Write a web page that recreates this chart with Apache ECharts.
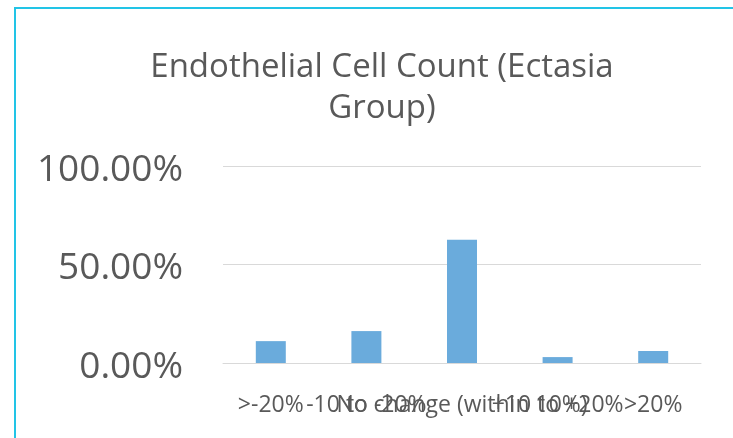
<!DOCTYPE html>
<html>
<head>
<meta charset="utf-8">
<script src="https://cdn.jsdelivr.net/npm/echarts@6/dist/echarts.min.js"></script>
<style>
  html, body { margin: 0; padding: 0; background: #fff; }
  #chart { width: 733px; height: 438px; }
</style>
</head>
<body>
<div id="chart"></div>
<script>
  // 数据
  const categories = ['>-20%', '-10 to -20%', 'No change (within 10%)', '+10 to +20%', '>20%']
  const shares = [0.111, 0.162, 0.626, 0.030, 0.061]
  const yTicks = [0, 0.5, 1]

  const chart = echarts.init(document.getElementById('chart'))
  const font = '"Open Sans", sans-serif'
  const option = {
    backgroundColor: '#fff',
    title: {
      text: 'Endothelial Cell Count (Ectasia\nGroup)',
      left: 377,
      top: 42,
      textAlign: 'center',
      textStyle: {
        fontFamily: font,
        fontSize: 33,
        fontWeight: 'normal',
        color: '#595959',
        lineHeight: 41
      }
    },
    graphic: [{
      type: 'rect',
      shape: {x: 15, y: 8, width: 760, height: 480},
      style: {fill: 'none', stroke: '#22c4e6', lineWidth: 2},
      silent: true
    }],
    grid: {left: 223, right: 32, top: 166, bottom: 75},
    xAxis: {
      type: 'category',
      data: categories,
      axisLine: {lineStyle: {color: '#d9d9d9', width: 1}},
      axisTick: {show: false},
      axisLabel: {
        interval: 0,
        hideOverlap: false,
        margin: 31,
        fontFamily: font,
        fontSize: 23,
        color: '#595959'
      }
    },
    yAxis: {
      type: 'value',
      min: yTicks[0],
      max: yTicks[yTicks.length - 1],
      interval: yTicks[1] - yTicks[0],
      axisLine: {show: false},
      axisTick: {show: false},
      splitLine: {lineStyle: {color: '#d9d9d9', width: 1}},
      axisLabel: {
        margin: 40,
        verticalAlign: 'top',
        lineHeight: 8,
        fontFamily: font,
        fontSize: 37,
        color: '#595959',
        formatter: v => (v * 100).toFixed(2) + '%'
      }
    },
    series: [{
      type: 'bar',
      data: shares,
      barWidth: 30,
      itemStyle: {color: '#6aabdc'}
    }]
  }
  chart.setOption(option)
</script>
</body>
</html>
